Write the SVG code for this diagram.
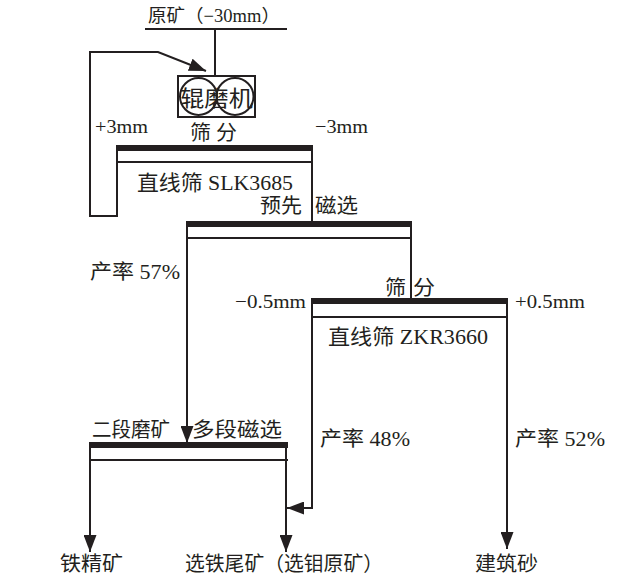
<svg xmlns="http://www.w3.org/2000/svg" width="634" height="578" viewBox="0 0 634 578">
<style>
.t{font-family:"Liberation Serif","Noto Sans CJK SC",serif;fill:#231f20;}
.ln{fill:none;stroke:#231f20;stroke-width:2;}
.bar{fill:none;stroke:#231f20;stroke-width:6;}
</style>
<defs>
<marker id="ah" markerWidth="17" markerHeight="13" refX="17" refY="6.5" orient="auto" markerUnits="userSpaceOnUse">
<path d="M0,0 L17,6.5 L0,13 Z" fill="#231f20"/>
</marker>
</defs>
<rect width="634" height="578" fill="#ffffff"/>

<g id="feed">
<line class="ln" x1="145" y1="29" x2="287" y2="29"/>
<text class="t" x="148" y="22" font-size="18" textLength="132" lengthAdjust="spacingAndGlyphs">原矿（−30mm）</text>
</g>

<g id="roller-mill">
<rect class="ln" x="178" y="76" width="77" height="41"/>
<circle class="ln" cx="198.5" cy="96.5" r="18.5"/>
<circle class="ln" cx="235" cy="96.5" r="18.5"/>
<text class="t" x="180" y="106" font-size="22" textLength="73" lengthAdjust="spacingAndGlyphs">辊磨机</text>
</g>

<g id="screen-slk3685">
<line class="bar" x1="117" y1="148" x2="313" y2="148"/>
<line class="ln" x1="117" y1="162" x2="313" y2="162"/>
<text class="t" x="190" y="140" font-size="20" textLength="47" lengthAdjust="spacingAndGlyphs">筛 分</text>
<text class="t" x="95" y="133" font-size="19" textLength="53" lengthAdjust="spacingAndGlyphs">+3mm</text>
<text class="t" x="315" y="133" font-size="19" textLength="53" lengthAdjust="spacingAndGlyphs">−3mm</text>
<text class="t" x="137" y="190" font-size="21" textLength="156" lengthAdjust="spacingAndGlyphs">直线筛 SLK3685</text>
</g>

<g id="pre-magnetic">
<line class="bar" x1="186" y1="224" x2="412" y2="224"/>
<line class="ln" x1="186" y1="238" x2="412" y2="238"/>
<text class="t" x="260" y="213" font-size="20" textLength="42" lengthAdjust="spacingAndGlyphs">预先</text>
<text class="t" x="315" y="213" font-size="20" textLength="43" lengthAdjust="spacingAndGlyphs">磁选</text>
</g>

<g id="screen-zkr3660">
<line class="bar" x1="312" y1="301" x2="508" y2="301"/>
<line class="ln" x1="312" y1="317" x2="508" y2="317"/>
<text class="t" x="385" y="295" font-size="20" textLength="21" lengthAdjust="spacingAndGlyphs">筛</text>
<text class="t" x="413" y="295" font-size="20" textLength="22" lengthAdjust="spacingAndGlyphs">分</text>
<text class="t" x="235" y="308" font-size="19" textLength="71" lengthAdjust="spacingAndGlyphs">−0.5mm</text>
<text class="t" x="515" y="308" font-size="19" textLength="70" lengthAdjust="spacingAndGlyphs">+0.5mm</text>
<text class="t" x="328" y="344" font-size="21" textLength="160" lengthAdjust="spacingAndGlyphs">直线筛 ZKR3660</text>
</g>

<g id="grinding-magnetic">
<line class="bar" x1="89" y1="445" x2="288" y2="445"/>
<line class="ln" x1="89" y1="460" x2="288" y2="460"/>
<text class="t" x="92" y="437" font-size="20" textLength="78" lengthAdjust="spacingAndGlyphs">二段磨矿</text>
<text class="t" x="192" y="437" font-size="20" textLength="90" lengthAdjust="spacingAndGlyphs">多段磁选</text>
</g>

<g id="iron-concentrate">
<text class="t" x="60" y="571" font-size="20" textLength="63" lengthAdjust="spacingAndGlyphs">铁精矿</text>
</g>
<g id="iron-tailings">
<text class="t" x="185" y="571" font-size="20" textLength="198" lengthAdjust="spacingAndGlyphs">选铁尾矿（选钼原矿）</text>
</g>
<g id="building-sand">
<text class="t" x="475" y="571" font-size="20" textLength="63" lengthAdjust="spacingAndGlyphs">建筑砂</text>
</g>

<g id="connectors">
<line class="ln" x1="215" y1="29" x2="215" y2="76"/>
<polyline class="ln" points="117,145 117,216 90,216 90,52 158,52 206,71" marker-end="url(#ah)"/>
<line class="ln" x1="312" y1="145" x2="312" y2="221"/>
<polyline class="ln" points="187,221 187,443" marker-end="url(#ah)"/>
<line class="ln" x1="411" y1="221" x2="411" y2="298"/>
<polyline class="ln" points="312,298 312,508 287,508" marker-end="url(#ah)"/>
<polyline class="ln" points="507,298 507,549" marker-end="url(#ah)"/>
<polyline class="ln" points="90,442 90,552" marker-end="url(#ah)"/>
<polyline class="ln" points="286,442 286,552" marker-end="url(#ah)"/>
<text class="t" x="90" y="279" font-size="20" textLength="90" lengthAdjust="spacingAndGlyphs">产率 57%</text>
<text class="t" x="320" y="446" font-size="20" textLength="90" lengthAdjust="spacingAndGlyphs">产率 48%</text>
<text class="t" x="515" y="446" font-size="20" textLength="90" lengthAdjust="spacingAndGlyphs">产率 52%</text>
</g>
</svg>
